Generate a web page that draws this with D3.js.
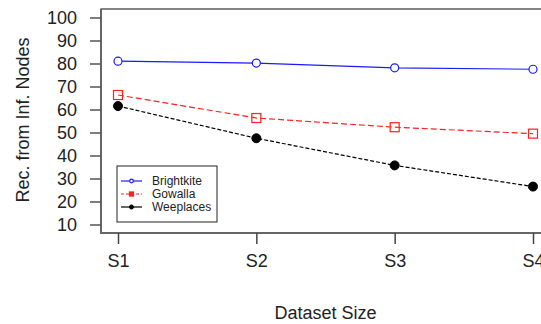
<!DOCTYPE html>
<html>
<head>
<meta charset="utf-8">
<script src="https://cdn.jsdelivr.net/npm/d3@7"></script>
<style>
  body { margin: 0; background: #fff; }
  text { font-family: Arial, "Liberation Sans", sans-serif; fill: #222; }
</style>
</head>
<body>
<svg id="chart" width="541" height="324"></svg>
<script>
// data
const sizes = ["S1", "S2", "S3", "S4"];
const yTicks = [10, 20, 30, 40, 50, 60, 70, 80, 90, 100];
const brightkite = [81, 80.2, 78.1, 77.5];
const gowalla = [66.3, 56.3, 52.3, 49.5];
const weeplaces = [61.5, 47.5, 35.7, 26.5];

const series = [
  { name: "Brightkite", values: brightkite, color: "#1a1aff", dash: null, legendDash: null, marker: "circle" },
  { name: "Gowalla", values: gowalla, color: "#ff2020", dash: "6,3", legendDash: "3,2", marker: "square" },
  { name: "Weeplaces", values: weeplaces, color: "#000", dash: "4,2", legendDash: null, marker: "dot" }
];

const svg = d3.select("#chart");
const box = { left: 101, right: 550, top: 9, bottom: 233 };

// R-style 4% padding around the data range
const x = d3.scalePoint().domain(sizes).range([118, 533]);
const y = d3.scaleLinear().domain([10, 100]).range([224.5, 17.5]);

// plot frame
svg.append("rect")
  .attr("x", box.left).attr("y", box.top)
  .attr("width", box.right - box.left).attr("height", box.bottom - box.top)
  .attr("fill", "none").attr("stroke", "#333").attr("stroke-width", 1.2);
svg.append("path")
  .attr("d", `M${box.left},${box.top}V${box.bottom}H${box.right}`)
  .attr("fill", "none").attr("stroke", "#666").attr("stroke-width", 2);

// y axis
const yAxis = svg.append("g").attr("transform", `translate(${box.left - 11},0)`)
  .call(d3.axisLeft(y).tickValues(yTicks).tickSize(0).tickPadding(13).tickFormat(d3.format("d")));
yAxis.select(".domain").remove();
yAxis.selectAll("text").style("font-size", "18px").attr("fill", "#222").attr("dy", "0.36em");
yAxis.selectAll(".tick").append("line")
  .attr("x1", 0).attr("x2", 11).attr("stroke", "#555").attr("stroke-width", 1.5);

// x axis
const xAxis = svg.append("g").attr("transform", `translate(0,${box.bottom})`)
  .call(d3.axisBottom(x).tickSize(11).tickPadding(10));
xAxis.select(".domain").remove();
xAxis.selectAll("line").attr("stroke", "#444").attr("stroke-width", 1.5);
xAxis.selectAll("text").style("font-size", "18px").attr("fill", "#222");

// axis titles
svg.append("text")
  .attr("transform", "translate(29,120) rotate(-90)")
  .attr("text-anchor", "middle")
  .style("font-size", "18px")
  .text("Rec. from Inf. Nodes");
svg.append("text")
  .attr("x", (box.left + box.right) / 2).attr("y", 319)
  .attr("text-anchor", "middle")
  .style("font-size", "18px")
  .text("Dataset Size");

// lines + markers
const line = d3.line().x((d, i) => x(sizes[i])).y(d => y(d));

function drawMarker(g, kind, color, cx, cy, s) {
  if (kind === "circle") {
    g.append("circle").attr("cx", cx).attr("cy", cy).attr("r", 4 * s)
      .attr("fill", "#fff").attr("stroke", color).attr("stroke-width", 1.2);
  } else if (kind === "square") {
    g.append("rect").attr("x", cx - 4.5 * s).attr("y", cy - 4.5 * s)
      .attr("width", 9 * s).attr("height", 9 * s)
      .attr("fill", s < 1 ? color : "none").attr("stroke", color).attr("stroke-width", 1.2);
  } else {
    g.append("circle").attr("cx", cx).attr("cy", cy).attr("r", 4.5 * s)
      .attr("fill", color).attr("stroke", color);
  }
}

series.forEach(s => {
  const g = svg.append("g");
  g.append("path")
    .datum(s.values)
    .attr("d", line)
    .attr("fill", "none")
    .attr("stroke", s.color)
    .attr("stroke-width", 1.2)
    .attr("stroke-dasharray", s.dash);
  s.values.forEach((v, i) => drawMarker(g, s.marker, s.color, x(sizes[i]), y(v), 1));
});

// legend
const lg = svg.append("g");
lg.append("rect")
  .attr("x", 117).attr("y", 166).attr("width", 100).attr("height", 56)
  .attr("fill", "#fff").attr("stroke", "#222").attr("stroke-width", 1);
series.forEach((s, i) => {
  const ly = 181 + i * 13;
  lg.append("line")
    .attr("x1", 121).attr("x2", 142).attr("y1", ly).attr("y2", ly)
    .attr("stroke", s.color).attr("stroke-width", 1.2)
    .attr("stroke-dasharray", s.legendDash);
  drawMarker(lg, s.marker, s.color, 131.5, ly, 0.45);
  lg.append("text")
    .attr("x", 152).attr("y", ly).attr("dy", "0.35em")
    .style("font-size", "12px")
    .text(s.name);
});
</script>
</body>
</html>
